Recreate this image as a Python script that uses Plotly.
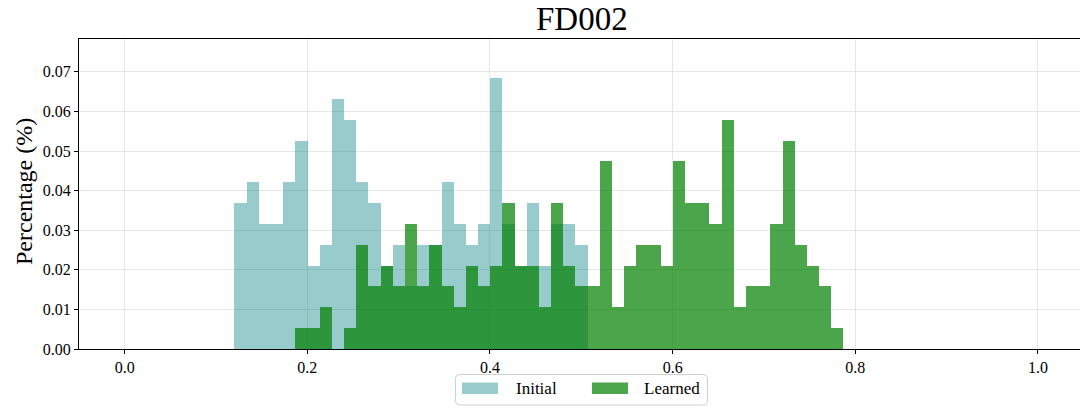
import numpy as np
import plotly.graph_objects as go

# Shared histogram binning (50 equal bins over the pooled data range)
bin_lo = 0.1202
bin_hi = 0.7870
n_bins = 50

# Fraction of samples per bin
initial_pct = [
    0.03684, 0.04211, 0.03158, 0.03158, 0.04211, 0.05263, 0.02105, 0.02632,
    0.06316, 0.05789, 0.04211, 0.03684, 0.02105, 0.02632, 0.01579, 0.02632,
    0.02632, 0.04211, 0.03158, 0.02632, 0.03158, 0.06842, 0.03158, 0.02105,
    0.03684, 0.02105, 0.03158, 0.03158, 0.02632, 0.0, 0.0, 0.0,
    0.0, 0.0, 0.0, 0.0, 0.0, 0.0, 0.0, 0.0,
    0.0, 0.0, 0.0, 0.0, 0.0, 0.0, 0.0, 0.0,
    0.0, 0.0,
]
learned_pct = [
    0.0, 0.0, 0.0, 0.0, 0.0, 0.00526, 0.00526, 0.01053,
    0.0, 0.00526, 0.02632, 0.01579, 0.02105, 0.01579, 0.03158, 0.01579,
    0.02632, 0.01579, 0.01053, 0.02105, 0.01579, 0.02105, 0.03684, 0.02105,
    0.02105, 0.01053, 0.03684, 0.02105, 0.01579, 0.01579, 0.04737, 0.01053,
    0.02105, 0.02632, 0.02632, 0.02105, 0.04737, 0.03684, 0.03684, 0.03158,
    0.05789, 0.01053, 0.01579, 0.01579, 0.03158, 0.05263, 0.02632, 0.02105,
    0.01579, 0.00526,
]

x_ticks = [0.0, 0.2, 0.4, 0.6, 0.8, 1.0]
x_tick_labels = ["0.0", "0.2", "0.4", "0.6", "0.8", "1.0"]
y_ticks = [0.00, 0.01, 0.02, 0.03, 0.04, 0.05, 0.06, 0.07]
y_tick_labels = ["0.00", "0.01", "0.02", "0.03", "0.04", "0.05", "0.06", "0.07"]

series_names = ["Initial", "Learned"]
series_colors = ["rgb(0,128,128)", "rgb(0,128,0)"]
series_alpha = [0.4, 0.7]

edges = np.linspace(bin_lo, bin_hi, n_bins + 1)
centers = (edges[:-1] + edges[1:]) / 2
width = edges[1] - edges[0]

FONT = "Liberation Serif"
W, H = 1080, 407
M_L, M_R, M_T, M_B = 79, 0, 39, 58

fig = go.Figure()
for name, vals, col, a in zip(series_names, [initial_pct, learned_pct], series_colors, series_alpha):
    fig.add_trace(go.Bar(
        x=centers, y=vals, width=width, name=name,
        marker=dict(color=col, line=dict(width=0)),
        opacity=a, showlegend=False,
    ))

plot_w = W - M_L - M_R
plot_h = H - M_T - M_B


def px_x(px):
    return (px - M_L) / plot_w


def px_y(py):
    return (H - M_B - py) / plot_h


shapes = []
annotations = []

# Legend frame with rounded corners
x0, x1, y0, y1, r = 455.5, 707.5, 374.5, 405.0, 4
path = (
    f"M {px_x(x0 + r)},{px_y(y0)} L {px_x(x1 - r)},{px_y(y0)} "
    f"Q {px_x(x1)},{px_y(y0)} {px_x(x1)},{px_y(y0 + r)} "
    f"L {px_x(x1)},{px_y(y1 - r)} Q {px_x(x1)},{px_y(y1)} {px_x(x1 - r)},{px_y(y1)} "
    f"L {px_x(x0 + r)},{px_y(y1)} Q {px_x(x0)},{px_y(y1)} {px_x(x0)},{px_y(y1 - r)} "
    f"L {px_x(x0)},{px_y(y0 + r)} Q {px_x(x0)},{px_y(y0)} {px_x(x0 + r)},{px_y(y0)} Z"
)
shapes.append(dict(type="path", xref="paper", yref="paper", path=path,
                   line=dict(color="#d0d0d0", width=1), fillcolor="rgba(255,255,255,0.8)"))

legend_items = [(462, 514), (592, 642)]
for (patch_x, text_x), name, col, a in zip(legend_items, series_names, series_colors, series_alpha):
    shapes.append(dict(type="rect", xref="paper", yref="paper",
                       x0=px_x(patch_x), x1=px_x(patch_x + 36),
                       y0=px_y(382.5), y1=px_y(394),
                       line=dict(width=0), fillcolor=col, opacity=a))
    annotations.append(dict(text=name, xref="paper", yref="paper",
                            x=px_x(text_x), y=px_y(389), xanchor="left", yanchor="middle",
                            showarrow=False, font=dict(family=FONT, size=17, color="black")))

# Title and y-axis label
annotations.append(dict(text="FD002", xref="paper", yref="paper",
                        x=px_x(581.5), y=px_y(19), xanchor="center", yanchor="middle",
                        showarrow=False, font=dict(family=FONT, size=33, color="black")))
annotations.append(dict(text="Percentage (%)", xref="paper", yref="paper",
                        x=px_x(24), y=px_y(192), xanchor="center", yanchor="middle",
                        textangle=-90, showarrow=False,
                        font=dict(family=FONT, size=24, color="black")))

fig.update_layout(
    width=W, height=H,
    margin=dict(l=M_L, r=M_R, t=M_T, b=M_B),
    barmode="overlay", bargap=0,
    plot_bgcolor="white", paper_bgcolor="white",
    font=dict(family=FONT, size=16, color="black"),
    shapes=shapes, annotations=annotations,
    showlegend=False,
)
fig.update_xaxes(
    range=[-0.05, -0.05 + plot_w / 913.3],
    tickvals=x_ticks, ticktext=x_tick_labels,
    ticks="outside", ticklen=4, tickwidth=1, tickcolor="black",
    showline=True, linecolor="black", linewidth=1, mirror=True,
    showgrid=True, gridcolor="#e6e6e6", gridwidth=1, zeroline=False,
    tickfont=dict(family=FONT, size=16, color="black"),
)
fig.update_yaxes(
    range=[0, plot_h / 3960.0],
    tickvals=y_ticks, ticktext=y_tick_labels,
    ticks="outside", ticklen=4, tickwidth=1, tickcolor="black",
    showline=True, linecolor="black", linewidth=1, mirror=False,
    showgrid=True, gridcolor="#e6e6e6", gridwidth=1, zeroline=False,
    tickfont=dict(family=FONT, size=16, color="black"),
)

fig.write_html("out.html")
